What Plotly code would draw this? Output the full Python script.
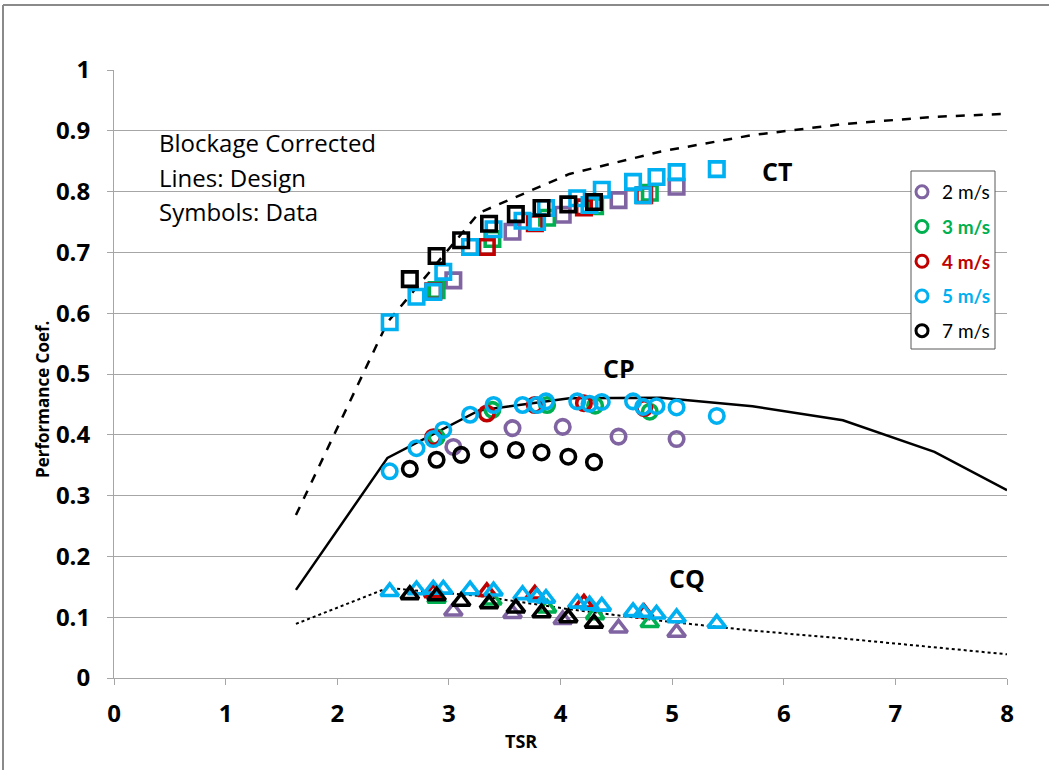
import plotly.graph_objects as go

# ---- Design curves (lines) ----
tsr_design = [1.63, 2.45, 3.27, 4.08, 4.90, 5.72, 6.53, 7.35, 8.0]
ct_design = [0.268, 0.585, 0.765, 0.829, 0.866, 0.893, 0.911, 0.923, 0.928]
cp_design = [0.145, 0.362, 0.440, 0.460, 0.461, 0.447, 0.424, 0.372, 0.309]
cq_design = [0.089, 0.148, 0.135, 0.113, 0.094, 0.078, 0.065, 0.051, 0.039]

# ---- Measured data (symbols), one set per flow speed ----
tsr_2 = [3.04, 3.57, 4.02, 4.52, 5.04]
ct_2 = [0.654, 0.734, 0.762, 0.786, 0.808]
cp_2 = [0.380, 0.411, 0.413, 0.397, 0.393]
cq_2 = [0.110, 0.106, 0.096, 0.082, 0.075]

tsr_3 = [2.89, 3.39, 3.88, 4.31, 4.80]
ct_3 = [0.638, 0.722, 0.757, 0.776, 0.798]
cp_3 = [0.396, 0.441, 0.449, 0.448, 0.438]
cq_3 = [0.131, 0.128, 0.115, 0.104, 0.091]

tsr_4 = [2.86, 3.34, 3.77, 4.21, 4.75]
ct_4 = [0.636, 0.709, 0.748, 0.774, 0.794]
cp_4 = [0.396, 0.435, 0.449, 0.452, 0.444]
cq_4 = [0.140, 0.142, 0.138, 0.123, 0.107]

tsr_5 = [2.47, 2.71, 2.86, 2.95, 3.19, 3.40, 3.66, 3.79, 3.87, 4.15, 4.26,
         4.37, 4.65, 4.74, 4.86, 5.04, 5.40]
ct_5 = [0.585, 0.627, 0.635, 0.668, 0.709, 0.738, 0.752, 0.750, 0.773, 0.789,
        0.778, 0.803, 0.816, 0.794, 0.824, 0.832, 0.837]
cp_5 = [0.340, 0.378, 0.393, 0.408, 0.433, 0.449, 0.449, 0.449, 0.455, 0.455,
        0.451, 0.454, 0.455, 0.446, 0.447, 0.445, 0.431]
cq_5 = [0.142, 0.145, 0.146, 0.146, 0.145, 0.143, 0.137, 0.133, 0.131, 0.123,
        0.120, 0.118, 0.109, 0.108, 0.105, 0.099, 0.090]

tsr_7 = [2.65, 2.89, 3.11, 3.36, 3.60, 3.83, 4.07, 4.30]
ct_7 = [0.656, 0.694, 0.720, 0.747, 0.763, 0.773, 0.779, 0.783]
cp_7 = [0.344, 0.359, 0.367, 0.376, 0.375, 0.371, 0.364, 0.355]
cq_7 = [0.137, 0.135, 0.126, 0.122, 0.115, 0.107, 0.099, 0.090]

speed_labels = ["2 m/s", "3 m/s", "4 m/s", "5 m/s", "7 m/s"]
speed_colors = ["#8064A2", "#00B050", "#C00000", "#00B0F0", "#000000"]
label_colors = ["#000000", "#00B050", "#C00000", "#00B0F0", "#000000"]
speed_bold = [False, True, True, True, False]

x_ticks = [0, 1, 2, 3, 4, 5, 6, 7, 8]
y_ticks = [0, 0.1, 0.2, 0.3, 0.4, 0.5, 0.6, 0.7, 0.8, 0.9, 1]
y_tick_text = ["0", "0.1", "0.2", "0.3", "0.4", "0.5", "0.6", "0.7", "0.8", "0.9", "1"]

FONT = "Open Sans"
LEG_FONT = "Lato"
GRID = "#A6A6A6"

fig = go.Figure()

# design lines
fig.add_trace(go.Scatter(x=tsr_design, y=ct_design, mode="lines",
                         line=dict(color="black", width=2.5, dash="dash"),
                         showlegend=False, hoverinfo="skip"))
fig.add_trace(go.Scatter(x=tsr_design, y=cp_design, mode="lines",
                         line=dict(color="black", width=2.5),
                         showlegend=False, hoverinfo="skip"))
fig.add_trace(go.Scatter(x=tsr_design, y=cq_design, mode="lines",
                         line=dict(color="black", width=2, dash="dot"),
                         showlegend=False, hoverinfo="skip"))

data_sets = [
    (tsr_2, ct_2, cp_2, cq_2),
    (tsr_3, ct_3, cp_3, cq_3),
    (tsr_4, ct_4, cp_4, cq_4),
    (tsr_5, ct_5, cp_5, cq_5),
    (tsr_7, ct_7, cp_7, cq_7),
]

for (tsr, ct, cp, cq), col in zip(data_sets, speed_colors):
    fig.add_trace(go.Scatter(x=tsr, y=ct, mode="markers", showlegend=False,
                             marker=dict(symbol="square-open", size=14.5, color=col,
                                         line=dict(width=3.6, color=col))))
    fig.add_trace(go.Scatter(x=tsr, y=cp, mode="markers", showlegend=False,
                             marker=dict(symbol="circle-open", size=14.5, color=col,
                                         line=dict(width=3.6, color=col))))
    fig.add_trace(go.Scatter(x=tsr, y=cq, mode="markers", showlegend=False,
                             marker=dict(symbol="triangle-up-open", size=15.5, color=col,
                                         line=dict(width=3.6, color=col))))

# legend entries (circle symbol, coloured labels)
for i, (lab, col, tcol, bold) in enumerate(zip(speed_labels, speed_colors,
                                                label_colors, speed_bold)):
    txt = f"<b>{lab}</b>" if bold else lab
    fig.add_trace(go.Scatter(x=[None], y=[None], mode="markers",
                             name=f"<span style='color:{tcol}'>{txt}</span>",
                             legendgroup=f"g{i}",
                             marker=dict(symbol="circle-open", size=12, color=col,
                                         line=dict(width=3, color=col))))

W, H = 1049, 770
ML, MR, MT, MB = 114, 42, 70, 92
PW, PH = W - ML - MR, H - MT - MB


def px_x(p):
    return (p - ML) / PW


def px_y(p):
    return (H - MB - p) / PH


def note(text, y):
    return dict(text=text, x=0.385, y=y, xref="x", yref="y",
                xanchor="left", yanchor="middle", showarrow=False,
                font=dict(family=FONT, size=24, color="black"))


annotations = [
    note("Blockage Corrected", 0.88),
    note("Lines: Design", 0.824),
    note("Symbols: Data", 0.768),
    dict(text="<b>CT</b>", x=5.94, y=0.834, xref="x", yref="y",
         showarrow=False, font=dict(family=FONT, size=25, color="black")),
    dict(text="<b>CP</b>", x=4.52, y=0.51, xref="x", yref="y",
         showarrow=False, font=dict(family=FONT, size=25, color="black")),
    dict(text="<b>CQ</b>", x=5.13, y=0.165, xref="x", yref="y",
         showarrow=False, font=dict(family=FONT, size=25, color="black")),
    dict(text="<b>Performance Coef.</b>", x=px_x(42), y=px_y(400),
         xref="paper", yref="paper", textangle=-90, showarrow=False,
         xanchor="center", yanchor="middle",
         font=dict(family=FONT, size=17, color="black")),
    dict(text="<b>TSR</b>", x=px_x(521), y=px_y(741),
         xref="paper", yref="paper", showarrow=False,
         xanchor="center", yanchor="middle",
         font=dict(family=FONT, size=18, color="black")),
]

shapes = [
    # outer chart frame (top and left edges)
    dict(type="line", xref="paper", yref="paper",
         x0=px_x(3), x1=px_x(W + 5), y0=px_y(5), y1=px_y(5),
         line=dict(color="#8A8A8A", width=2)),
    dict(type="line", xref="paper", yref="paper",
         x0=px_x(3), x1=px_x(3), y0=px_y(5), y1=px_y(H + 5),
         line=dict(color="#8A8A8A", width=2)),
    # legend box
    dict(type="rect", xref="paper", yref="paper", layer="above",
         x0=px_x(911), x1=px_x(995), y0=px_y(349), y1=px_y(171),
         fillcolor="white", line=dict(color="#595959", width=1)),
]

fig.update_layout(
    width=W, height=H,
    margin=dict(l=ML, r=MR, t=MT, b=MB),
    paper_bgcolor="white", plot_bgcolor="white",
    font=dict(family=FONT, color="black"),
    showlegend=True,
    legend=dict(x=px_x(902), y=px_y(173), xanchor="left", yanchor="top",
                bgcolor="rgba(0,0,0,0)", borderwidth=0,
                font=dict(family=LEG_FONT, size=19),
                tracegroupgap=7, itemwidth=30),
    annotations=annotations,
    shapes=shapes,
    xaxis=dict(range=[0, 8], tickmode="array", tickvals=x_ticks,
               ticktext=[f"<b>{v}</b>" for v in x_ticks],
               showgrid=False, zeroline=False, showline=True,
               linecolor=GRID, linewidth=1, ticks="outside", ticklen=6,
               tickcolor=GRID, ticklabelstandoff=8,
               tickfont=dict(family=FONT, size=24, color="black")),
    yaxis=dict(range=[0, 1], tickmode="array", tickvals=y_ticks,
               ticktext=[f"<b>{t}</b>" for t in y_tick_text],
               showgrid=True, gridcolor=GRID, gridwidth=1, zeroline=False,
               showline=True, linecolor=GRID, linewidth=1,
               ticks="outside", ticklen=6, tickcolor=GRID, ticklabelstandoff=12,
               tickfont=dict(family=FONT, size=24, color="black")),
)

fig.write_html("out.html")
